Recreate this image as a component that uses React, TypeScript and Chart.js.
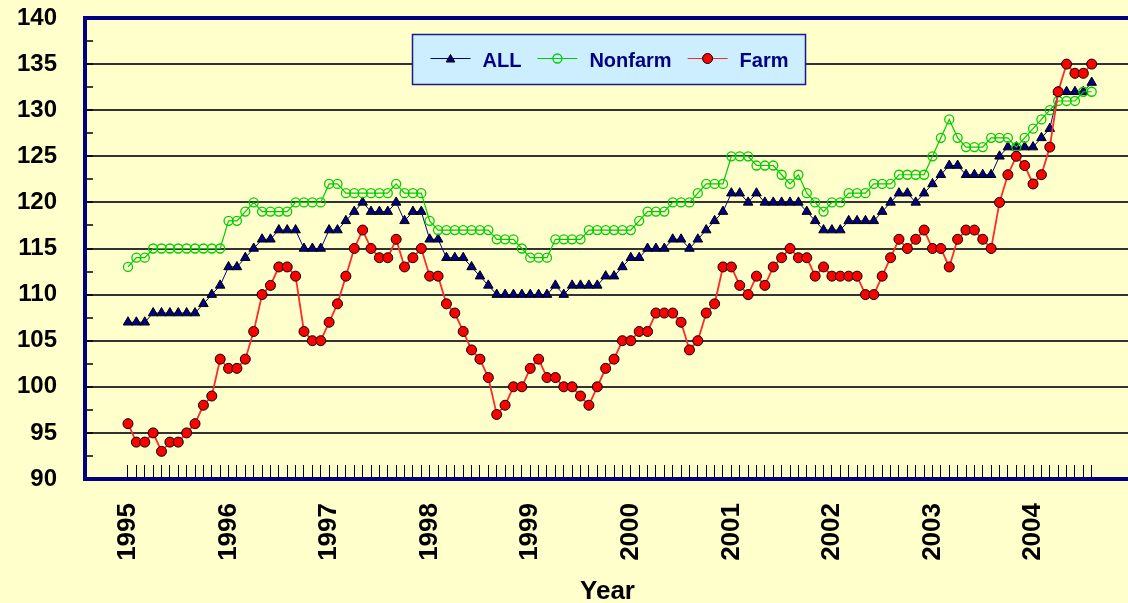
import React, { useEffect, useRef } from 'react';
import { Chart, registerables } from 'chart.js';

Chart.register(...registerables);

// ---- data (monthly index values, Jan 1995 – Aug 2004) ----
const yearLabels = ['1995', '1996', '1997', '1998', '1999', '2000', '2001', '2002', '2003', '2004'];
const seriesNames = ['ALL', 'Nonfarm', 'Farm'];

const allValues = [
  107, 107, 107, 108, 108, 108, 108, 108, 108, 109, 110, 111,
  113, 113, 114, 115, 116, 116, 117, 117, 117, 115, 115, 115,
  117, 117, 118, 119, 120, 119, 119, 119, 120, 118, 119, 119,
  116, 116, 114, 114, 114, 113, 112, 111, 110, 110, 110, 110,
  110, 110, 110, 111, 110, 111, 111, 111, 111, 112, 112, 113,
  114, 114, 115, 115, 115, 116, 116, 115, 116, 117, 118, 119,
  121, 121, 120, 121, 120, 120, 120, 120, 120, 119, 118, 117,
  117, 117, 118, 118, 118, 118, 119, 120, 121, 121, 120, 121,
  122, 123, 124, 124, 123, 123, 123, 123, 125, 126, 126, 126,
  126, 127, 128, 132, 132, 132, 132, 133,
];

const nonfarmValues = [
  113, 114, 114, 115, 115, 115, 115, 115, 115, 115, 115, 115,
  118, 118, 119, 120, 119, 119, 119, 119, 120, 120, 120, 120,
  122, 122, 121, 121, 121, 121, 121, 121, 122, 121, 121, 121,
  118, 117, 117, 117, 117, 117, 117, 117, 116, 116, 116, 115,
  114, 114, 114, 116, 116, 116, 116, 117, 117, 117, 117, 117,
  117, 118, 119, 119, 119, 120, 120, 120, 121, 122, 122, 122,
  125, 125, 125, 124, 124, 124, 123, 122, 123, 121, 120, 119,
  120, 120, 121, 121, 121, 122, 122, 122, 123, 123, 123, 123,
  125, 127, 129, 127, 126, 126, 126, 127, 127, 127, 126, 127,
  128, 129, 130, 131, 131, 131, 132, 132,
];

const farmValues = [
  96, 94, 94, 95, 93, 94, 94, 95, 96, 98, 99, 103,
  102, 102, 103, 106, 110, 111, 113, 113, 112, 106, 105, 105,
  107, 109, 112, 115, 117, 115, 114, 114, 116, 113, 114, 115,
  112, 112, 109, 108, 106, 104, 103, 101, 97, 98, 100, 100,
  102, 103, 101, 101, 100, 100, 99, 98, 100, 102, 103, 105,
  105, 106, 106, 108, 108, 108, 107, 104, 105, 108, 109, 113,
  113, 111, 110, 112, 111, 113, 114, 115, 114, 114, 112, 113,
  112, 112, 112, 112, 110, 110, 112, 114, 116, 115, 116, 117,
  115, 115, 113, 116, 117, 117, 116, 115, 120, 123, 125, 124,
  122, 123, 126, 132, 135, 134, 134, 135,
];

const yMin = 90;
const yMax = 140;
const yStep = 2.5;

const BG = '#FFFFCC';
const NAVY = '#000080';
const FONT = '"Liberation Sans", Arial, sans-serif';

const toXY = (arr: number[]) => arr.map((v, i) => ({ x: i, y: v }));

const framePlugin = {
  id: 'frame',
  afterDraw(chart: any) {
    const { ctx, chartArea: a } = chart;
    ctx.save();
    ctx.strokeStyle = NAVY;
    ctx.lineWidth = 4;
    ctx.strokeRect(a.left, a.top, a.right - a.left, a.bottom - a.top);
    ctx.restore();
  },
};

function drawMarker(ctx: CanvasRenderingContext2D, ds: any, x: number, y: number) {
  const style = ds.pointStyle;
  ctx.save();
  ctx.lineWidth = ds.pointBorderWidth;
  ctx.strokeStyle = ds.pointBorderColor;
  ctx.fillStyle = ds.pointBackgroundColor;
  ctx.beginPath();
  if (style === 'triangle') {
    const r = 5;
    for (let k = 0; k < 3; k++) {
      const ang = (k * 2 * Math.PI) / 3;
      const px = x + Math.sin(ang) * r;
      const py = y - Math.cos(ang) * r + 1;
      if (k === 0) ctx.moveTo(px, py);
      else ctx.lineTo(px, py);
    }
    ctx.closePath();
  } else {
    ctx.arc(x, y, ds.label === 'Farm' ? 5 : 4.5, 0, Math.PI * 2);
  }
  ctx.fill();
  ctx.stroke();
  ctx.restore();
}

const boxLegendPlugin = {
  id: 'boxLegend',
  afterDraw(chart: any) {
    const { ctx } = chart;
    const datasets = [...chart.data.datasets];
    ctx.save();
    ctx.font = `bold 20px ${FONT}`;
    const lineLen = 40;
    const gapLine = 12;
    const gapText = 16;
    const padL = 18;
    const padR = 17;
    const widths = datasets.map((d: any) => ctx.measureText(d.label).width);
    let w = padL;
    widths.forEach((tw: number, i: number) => {
      w += lineLen + gapLine + tw + (i < widths.length - 1 ? gapText : 0);
    });
    w += padR;
    const h = 50;
    const left = Math.round(609 - w / 2) + 0.5;
    const top = 34.5;
    ctx.fillStyle = '#CCEEFF';
    ctx.fillRect(left, top, w, h);
    ctx.strokeStyle = '#1a1a8a';
    ctx.lineWidth = 1.5;
    ctx.strokeRect(left, top, w, h);
    const cy = top + 24;
    let x = left + padL;
    datasets.forEach((d: any, i: number) => {
      ctx.strokeStyle = d.borderColor;
      ctx.lineWidth = 1.2;
      ctx.beginPath();
      ctx.moveTo(x, cy);
      ctx.lineTo(x + lineLen, cy);
      ctx.stroke();
      drawMarker(ctx, d, x + lineLen / 2, cy);
      ctx.fillStyle = NAVY;
      ctx.textBaseline = 'alphabetic';
      ctx.textAlign = 'left';
      ctx.fillText(d.label, x + lineLen + gapLine, cy + 8);
      x += lineLen + gapLine + widths[i] + gapText;
    });
    ctx.restore();
  },
};

export default function App() {
  const canvasRef = useRef<HTMLCanvasElement | null>(null);

  useEffect(() => {
    document.body.style.margin = '0';
    document.body.style.background = BG;
    const canvas = canvasRef.current;
    if (!canvas) return;

    const chart = new Chart(canvas, {
      type: 'line',
      data: {
        datasets: [
          {
            label: seriesNames[0],
            data: toXY(allValues),
            borderColor: NAVY,
            borderWidth: 1,
            pointStyle: 'triangle',
            pointRadius: 5.5,
            pointBackgroundColor: NAVY,
            pointBorderColor: '#000000',
            pointBorderWidth: 1,
            tension: 0,
            order: 3,
          },
          {
            label: seriesNames[1],
            data: toXY(nonfarmValues),
            borderColor: '#00CC00',
            borderWidth: 1.2,
            pointStyle: 'circle',
            pointRadius: 4.5,
            pointBackgroundColor: 'rgba(0,0,0,0)',
            pointBorderColor: '#00CC00',
            pointBorderWidth: 1.3,
            tension: 0,
            order: 2,
          },
          {
            label: seriesNames[2],
            data: toXY(farmValues),
            borderColor: '#FF2A2A',
            borderWidth: 1.8,
            pointStyle: 'circle',
            pointRadius: 5,
            pointBackgroundColor: '#FF0000',
            pointBorderColor: '#000000',
            pointBorderWidth: 1,
            tension: 0,
            order: 1,
          },
        ] as any,
      },
      options: {
        responsive: false,
        animation: false,
        devicePixelRatio: 1,
        events: [],
        layout: { padding: { top: 18, right: 20, left: 0, bottom: 0 } },
        plugins: {
          legend: { display: false },
          tooltip: { enabled: false },
        },
        scales: {
          x: {
            type: 'linear',
            min: -5.13,
            max: 119.57,
            afterBuildTicks: (scale: any) => {
              scale.ticks = allValues.map((_, i) => ({ value: i }));
            },
            afterFit: (scale: any) => {
              scale.height = 124;
              scale.paddingLeft = 0;
              scale.paddingRight = 0;
              scale.paddingTop = 0;
              scale.paddingBottom = 0;
            },
            border: { display: false },
            grid: {
              drawOnChartArea: false,
              drawTicks: true,
              tickLength: -14,
              tickColor: '#000000',
              tickWidth: 1,
            },
            ticks: {
              autoSkip: false,
              minRotation: 90,
              maxRotation: 90,
              padding: 38,
              color: '#000000',
              font: { family: FONT, weight: 'bold', size: 26 },
              callback: (v: any) => (Number(v) % 12 === 0 ? yearLabels[Number(v) / 12] : ''),
            },
            title: {
              display: true,
              text: 'Year',
              color: '#000000',
              font: { family: FONT, weight: 'bold', size: 26 },
              padding: { top: 0, bottom: -4 },
            },
          },
          y: {
            type: 'linear',
            min: yMin,
            max: yMax,
            afterFit: (scale: any) => {
              scale.width = 85;
              scale.paddingLeft = 0;
              scale.paddingRight = 0;
              scale.paddingTop = 0;
              scale.paddingBottom = 0;
            },
            border: { display: false },
            grid: {
              color: (c: any) => (c.tick && c.tick.value % 5 === 0 ? '#333333' : 'rgba(0,0,0,0)'),
              lineWidth: 2,
              drawTicks: true,
              tickLength: -8,
              tickColor: '#000000',
              tickWidth: 1.5,
            },
            ticks: {
              stepSize: yStep,
              autoSkip: false,
              padding: 36,
              color: '#000000',
              font: { family: FONT, weight: 'bold', size: 24 },
              callback: (v: any) => (Number(v) % 5 === 0 ? String(v) : ''),
            },
          },
        },
      } as any,
      plugins: [framePlugin, boxLegendPlugin],
    });

    return () => {
      chart.destroy();
    };
  }, []);

  return (
    <div style={{ width: 1128, height: 603, overflow: 'hidden', background: BG, position: 'relative' }}>
      <canvas ref={canvasRef} width={1150} height={603} style={{ display: 'block' }} />
    </div>
  );
}
